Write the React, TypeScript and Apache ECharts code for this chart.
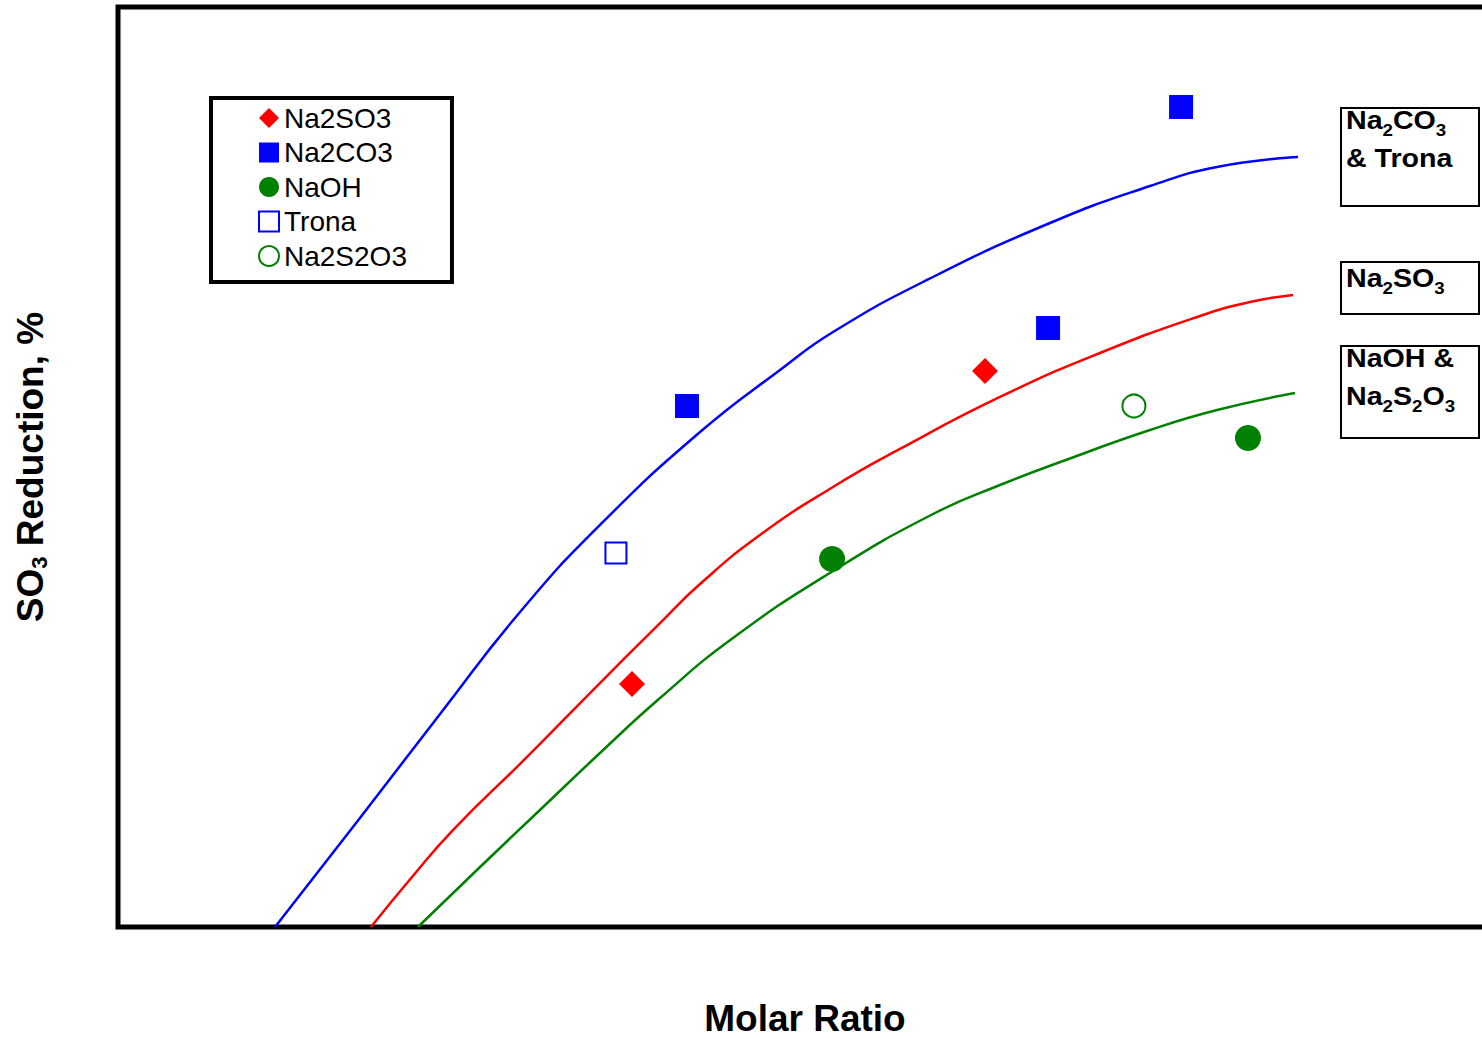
import React, { useEffect, useRef } from "react";
import * as echarts from "echarts";

// ---- data (arbitrary units, x: molar ratio scale 0..100, y: SO3 reduction 0..100) ----
const legendNames = ["Na2SO3", "Na2CO3", "NaOH", "Trona", "Na2S2O3"];

const na2so3X = [37.41, 63.1];
const na2so3Y = [26.41, 60.43];
const na2co3X = [41.41, 67.69, 77.37];
const na2co3Y = [56.63, 65.11, 89.13];
const naohX = [51.97, 82.24];
const naohY = [40.0, 53.15];
const tronaX = [36.24];
const tronaY = [40.65];
const na2s2o3X = [73.94];
const na2s2o3Y = [56.63];

// fitted curves
const blueX = [11.43, 17.61, 23.44, 29.26, 35.08, 42.36, 48.18, 52.04, 58.88, 67.83, 75.11, 79.99, 85.88];
const blueY = [0, 11.85, 23.15, 34.24, 43.7, 53.8, 60.54, 64.67, 70.33, 76.52, 80.54, 82.61, 83.7];
const redX = [18.41, 21.4, 24.38, 29.77, 34.57, 39.45, 42.36, 46.72, 52.04, 56.91, 64.19, 71.47, 78.75, 82.39, 85.52];
const redY = [0, 5.43, 10.54, 18.48, 25.76, 33.04, 37.28, 42.61, 47.83, 51.96, 57.61, 62.39, 66.41, 67.93, 68.7];
const greenX = [21.83, 26.35, 30.71, 35.08, 39.45, 44.76, 52.04, 59.32, 64.19, 68.78, 75.11, 79.99, 85.66];
const greenY = [0, 6.52, 12.72, 18.91, 24.89, 31.41, 38.7, 44.89, 48.04, 50.65, 54.02, 56.2, 58.04];

const zip = (xs: number[], ys: number[]) => xs.map((x, i) => [x, ys[i]]);

const FONT = "Liberation Sans, Arial, sans-serif";
const BLUE = "#0000ff";
const RED = "#ff0000";
const GREEN = "#008000";

export default function App() {
  const ref = useRef<HTMLDivElement>(null);
  useEffect(() => {
    if (!ref.current) return;
    const chart = echarts.init(ref.current, undefined, { renderer: "svg" });
    const curve = (name: string, xs: number[], ys: number[], color: string) => ({
      name,
      type: "line",
      data: zip(xs, ys),
      smooth: 0.5,
      showSymbol: false,
      symbol: "none",
      silent: true,
      lineStyle: { color, width: 2.5 },
      z: 2,
    });
    const subRich = (size: number, lh: number) => ({
      fontSize: size,
      fontWeight: "bold",
      fontFamily: FONT,
      color: "#000",
      lineHeight: lh,
      verticalAlign: "bottom",
    });
    const baseRich = {
      b: { fontSize: 26, fontWeight: "bold", fontFamily: FONT, color: "#000", lineHeight: 38 },
      s: subRich(17, 20),
    };
    const labelBox = (x: number, y: number, w: number, h: number) => ({
      type: "rect",
      shape: { x, y, width: w, height: h },
      style: { fill: "#fff", stroke: "#000", lineWidth: 2 },
      z: 10,
    });
    const labelText = (x: number, y: number, text: string) => ({
      type: "text",
      x,
      y,
      scaleX: 1.1,
      z: 11,
      style: {
        text,
        rich: baseRich,
        verticalAlign: "top",
        align: "left",
        fontSize: 26,
        fontWeight: "bold",
        fontFamily: FONT,
      },
    });
    chart.setOption({
      animation: false,
      backgroundColor: "#fff",
      grid: {
        left: 118,
        right: -10,
        top: 7,
        bottom: 112,
        containLabel: false,
        outerBoundsMode: "none",
        show: true,
        borderColor: "#000",
        borderWidth: 5,
        backgroundColor: "transparent",
      },
      xAxis: {
        type: "value",
        min: 0,
        max: 100,
        name: "Molar Ratio",
        nameLocation: "middle",
        nameGap: 74,
        nameTextStyle: { fontSize: 37, fontWeight: "bold", fontFamily: FONT, color: "#000", lineHeight: 34 },
        axisLine: { show: false },
        axisTick: { show: false },
        axisLabel: { show: false },
        splitLine: { show: false },
      },
      yAxis: {
        type: "value",
        min: 0,
        max: 100,
        name: "{m|SO}{s|3}{m| Reduction, %}",
        nameLocation: "middle",
        nameRotate: 90,
        nameGap: 68,
        nameTextStyle: {
          fontSize: 37,
          fontWeight: "bold",
          fontFamily: FONT,
          color: "#000",
          rich: {
            m: { fontSize: 37, fontWeight: "bold", fontFamily: FONT, color: "#000", lineHeight: 40 },
            s: subRich(22, 24),
          },
        },
        axisLine: { show: false },
        axisTick: { show: false },
        axisLabel: { show: false },
        splitLine: { show: false },
      },
      legend: {
        data: legendNames,
        orient: "vertical",
        left: 211,
        top: 98,
        padding: [6, 45, 12, 47],
        itemGap: 6.5,
        itemWidth: 20,
        itemHeight: 20,
        borderColor: "#000",
        borderWidth: 4,
        backgroundColor: "#fff",
        selectedMode: false,
        textStyle: { fontSize: 28, fontFamily: FONT, color: "#000" },
      },
      graphic: [
        labelBox(1341, 108, 138, 98),
        labelText(1346, 101, "{b|Na}{s|2}{b|CO}{s|3}\n{b|& Trona}"),
        labelBox(1341, 262, 138, 52),
        labelText(1346, 259, "{b|Na}{s|2}{b|SO}{s|3}"),
        labelBox(1341, 346, 138, 92),
        labelText(1346, 339, "{b|NaOH &}\n{b|Na}{s|2}{b|S}{s|2}{b|O}{s|3}"),
      ],
      series: [
        curve("Na2CO3 & Trona fit", blueX, blueY, BLUE),
        curve("Na2SO3 fit", redX, redY, RED),
        curve("NaOH & Na2S2O3 fit", greenX, greenY, GREEN),
        {
          name: "Na2SO3",
          type: "scatter",
          symbol: "diamond",
          symbolSize: 26,
          itemStyle: { color: RED, opacity: 1 },
          data: zip(na2so3X, na2so3Y),
          z: 5,
        },
        {
          name: "Na2CO3",
          type: "scatter",
          symbol: "rect",
          symbolSize: 24,
          itemStyle: { color: BLUE, opacity: 1 },
          data: zip(na2co3X, na2co3Y),
          z: 5,
        },
        {
          name: "NaOH",
          type: "scatter",
          symbol: "circle",
          symbolSize: 26,
          itemStyle: { color: GREEN, opacity: 1 },
          data: zip(naohX, naohY),
          z: 5,
        },
        {
          name: "Trona",
          type: "scatter",
          symbol: "emptyRect",
          symbolSize: 21,
          itemStyle: { color: BLUE, borderColor: BLUE, borderWidth: 2.5, opacity: 1 },
          data: zip(tronaX, tronaY),
          z: 5,
        },
        {
          name: "Na2S2O3",
          type: "scatter",
          symbol: "emptyCircle",
          symbolSize: 23,
          itemStyle: { color: GREEN, borderColor: GREEN, borderWidth: 2.5, opacity: 1 },
          data: zip(na2s2o3X, na2s2o3Y),
          z: 5,
        },
      ],
    });
    return () => chart.dispose();
  }, []);
  return (
    <div
      ref={ref}
      style={{ position: "fixed", left: 0, top: 0, width: 1482, height: 1039, background: "#fff" }}
    />
  );
}
